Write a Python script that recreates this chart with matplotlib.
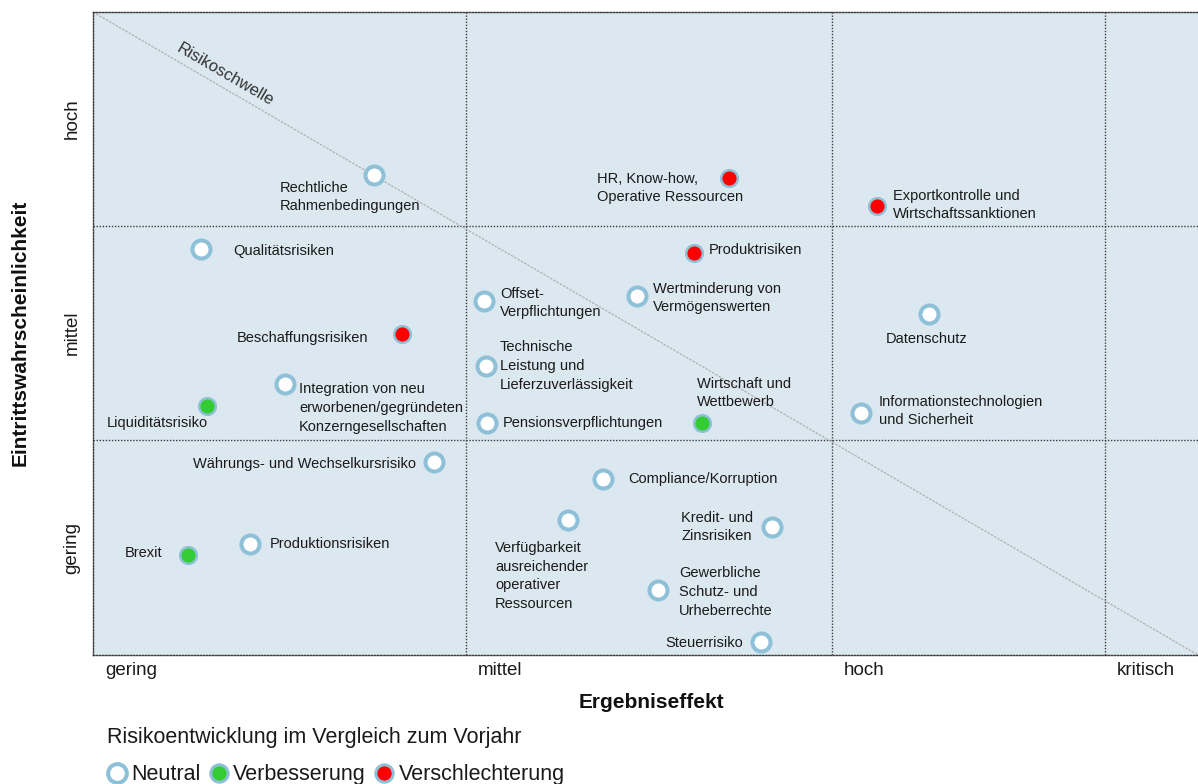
import matplotlib
matplotlib.use("Agg")
import matplotlib.pyplot as plt
import matplotlib.transforms as mtrans
from matplotlib.lines import Line2D

plt.rcParams['font.family'] = ['Liberation Sans', 'DejaVu Sans']

# ---- data (x: Ergebniseffekt, y: Eintrittswahrscheinlichkeit; grid units) ----
risks = [
    "Rechtliche\nRahmenbedingungen",
    "HR, Know-how,\nOperative Ressourcen",
    "Exportkontrolle und\nWirtschaftssanktionen",
    "Qualitätsrisiken",
    "Produktrisiken",
    "Offset-\nVerpflichtungen",
    "Wertminderung von\nVermögenswerten",
    "Datenschutz",
    "Beschaffungsrisiken",
    "Technische\nLeistung und\nLieferzuverlässigkeit",
    "Integration von neu\nerworbenen/gegründeten\nKonzerngesellschaften",
    "Liquiditätsrisiko",
    "Wirtschaft und\nWettbewerb",
    "Informationstechnologien\nund Sicherheit",
    "Pensionsverpflichtungen",
    "Währungs- und Wechselkursrisiko",
    "Compliance/Korruption",
    "Verfügbarkeit\nausreichender\noperativer\nRessourcen",
    "Kredit- und\nZinsrisiken",
    "Produktionsrisiken",
    "Brexit",
    "Gewerbliche\nSchutz- und\nUrheberrechte",
    "Steuerrisiko",
]
effect = [2.81, 6.36, 7.84, 1.08, 6.01, 3.91, 5.44, 8.36, 3.09, 3.93, 1.92, 1.14,
          6.09, 7.68, 3.94, 3.41, 5.10, 4.75, 6.79, 1.57, 0.95, 5.65, 6.68]
probability = [4.80, 4.77, 4.49, 4.06, 4.02, 3.54, 3.59, 3.41, 3.21, 2.89, 2.71, 2.49,
               2.32, 2.42, 2.32, 1.93, 1.76, 1.35, 1.28, 1.11, 1.00, 0.65, 0.13]
trend = ["Neutral", "Verschlechterung", "Verschlechterung", "Neutral", "Verschlechterung",
         "Neutral", "Neutral", "Neutral", "Verschlechterung", "Neutral", "Neutral",
         "Verbesserung", "Verbesserung", "Neutral", "Neutral", "Neutral", "Neutral",
         "Neutral", "Neutral", "Neutral", "Verbesserung", "Neutral", "Neutral"]

x_levels = ["gering", "mittel", "hoch", "kritisch"]
y_levels = ["gering", "mittel", "hoch"]
x_bounds = [0.0, 3.73, 7.39, 10.12]
y_bounds = [0.0, 2.15, 4.29, 6.43]
x_max = 11.05
legend_labels = ["Neutral", "Verbesserung", "Verschlechterung"]
legend_title = "Risikoentwicklung im Vergleich zum Vorjahr"

# ---- layout: label offsets in pixels (dx, dy up-positive) and alignment ----
label_layout = [
    (-94, -22, 'left'), (-132, -10, 'left'), (16, 1, 'left'), (32, -2, 'left'),
    (15, 3, 'left'), (16, -2, 'left'), (16, -2, 'left'), (-2, -25, 'center'),
    (-34, -4, 'right'), (14, 0, 'left'), (14, -24, 'left'), (-100, -17, 'left'),
    (-5, 30, 'left'), (18, 2, 'left'), (16, 0, 'left'), (-18, -2, 'right'),
    (25, 0, 'left'), (-73, -56, 'left'), (-91, 0, 'left'), (20, 0, 'left'),
    (-26, 2, 'right'), (21, -2, 'left'), (-18, -1, 'right'),
]

BG = '#dce8f0'
EDGE = '#8ec1d8'
FILL = {"Neutral": "white", "Verbesserung": "#33cc33", "Verschlechterung": "#ff0000"}
GRID = '#3a3a3a'
DOT = (0, (1, 1.2))

fig = plt.figure(figsize=(11.98, 7.84), dpi=100)
ax = fig.add_axes([93/1198, 1-655/784, 1-93/1198, (655-12)/784])
ax.set_facecolor(BG)
ax.set_xlim(0, x_max)
ax.set_ylim(y_bounds[0], y_bounds[-1])

for s in ['left', 'top', 'bottom']:
    ax.spines[s].set_linestyle(DOT)
    ax.spines[s].set_color(GRID)
    ax.spines[s].set_linewidth(1.0)
ax.spines['right'].set_visible(False)

for xb in x_bounds[1:]:
    ax.axvline(xb, color=GRID, lw=1.0, ls=DOT, zorder=1)
for yb in y_bounds[1:-1]:
    ax.axhline(yb, color=GRID, lw=1.0, ls=DOT, zorder=1)

# risk threshold diagonal
ax.plot([0, x_max], [y_bounds[-1], 0], color='#b0b0b0', lw=0.9, ls=(0, (2, 1)), zorder=1)
ax.text(1.32, 5.8, "Risikoschwelle", rotation=-30.2, rotation_mode='anchor',
        ha='center', va='center', fontsize=12, color='#333333')

for x, y, t, name, (dx, dy, ha) in zip(effect, probability, trend, risks, label_layout):
    if t == "Neutral":
        ax.plot(x, y, 'o', ms=13.0, mfc='white', mec=EDGE, mew=2.9, zorder=4)
    else:
        ax.plot(x, y, 'o', ms=12.0, mfc=FILL[t], mec=EDGE, mew=1.8, zorder=4)
    ax.annotate(name, (x, y), xytext=(dx, dy), textcoords='offset pixels',
                ha=ha, va='center', fontsize=10.5, color='#1a1a1a',
                linespacing=1.42, multialignment='left' if ha != 'center' else 'center',
                zorder=5)

ax.set_xticks(x_bounds)
ax.set_xticklabels(x_levels, ha='left', fontsize=13.5, color='#1a1a1a')
ax.tick_params(axis='x', length=0, pad=5)
off = mtrans.ScaledTranslation(12/100, 0, fig.dpi_scale_trans)
for lab in ax.get_xticklabels():
    lab.set_transform(lab.get_transform() + off)

ax.set_yticks([(y_bounds[i] + y_bounds[i+1]) / 2 for i in range(3)])
ax.set_yticklabels(y_levels, rotation=90, va='center', fontsize=13.5, color='#1a1a1a')
ax.tick_params(axis='y', length=0, pad=9)

fig.text(651/1198, 1-703/784, "Ergebniseffekt", ha='center', va='center',
         fontsize=15, fontweight='bold', color='#111111')
fig.text(20/1198, 1-333/784, "Eintrittswahrscheinlichkeit", ha='center', va='center',
         rotation=90, fontsize=15, fontweight='bold', color='#111111')

handles = [Line2D([], [], ls='', marker='o', ms=13.5 if k == "Neutral" else 12.5,
                  mfc=FILL[k], mec=EDGE, mew=2.9 if k == "Neutral" else 2.2)
           for k in legend_labels]
leg = fig.legend(handles, legend_labels, title=legend_title,
                 loc='upper left', bbox_to_anchor=(107/1198, 1-727/784), ncol=3,
                 frameon=False, fontsize=15.5, title_fontsize=15.5, alignment='left',
                 handlelength=0.9, handletextpad=0.22, columnspacing=0.4,
                 labelspacing=0.75, borderpad=0, borderaxespad=0)
leg.get_title().set_color('#1a1a1a')
for t in leg.get_texts():
    t.set_color('#1a1a1a')

fig.savefig("out.png", dpi=100)
